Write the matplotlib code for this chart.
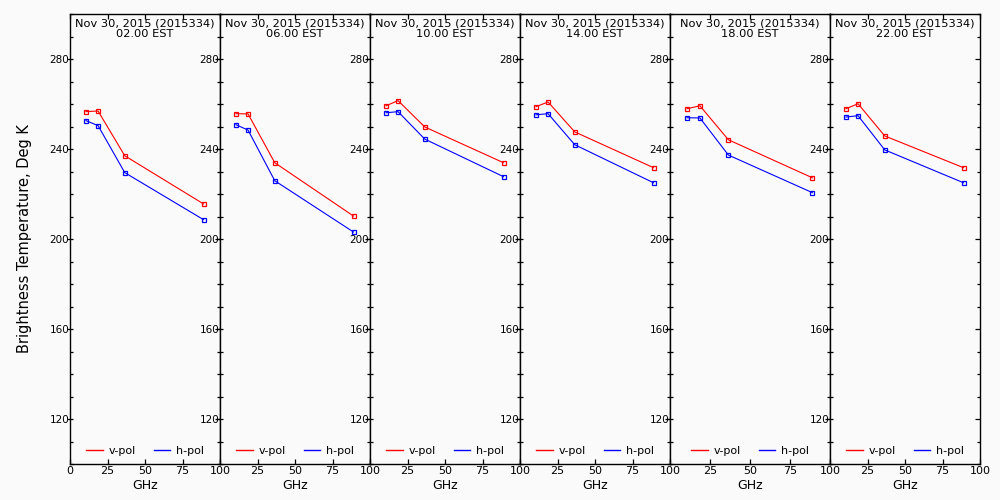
import numpy as np
import matplotlib
matplotlib.use("Agg")
from matplotlib import pyplot as plt
from matplotlib.lines import Line2D
from matplotlib.ticker import MultipleLocator

# AMSR2-like channel frequencies (GHz)
freqs = [10.65, 18.7, 36.5, 89.0]

hours = ["02.00 EST", "06.00 EST", "10.00 EST", "14.00 EST", "18.00 EST", "22.00 EST"]
date_label = "Nov 30, 2015 (2015334)"
x_ticks = [0, 25, 50, 75, 100]

# brightness temperatures (Deg K)
vpol = [
    [256.6, 256.9, 237.0, 215.6],
    [255.7, 255.6, 233.9, 210.2],
    [259.2, 261.5, 249.8, 233.9],
    [258.8, 260.9, 247.6, 231.7],
    [257.9, 259.2, 244.1, 227.2],
    [257.9, 260.1, 245.8, 231.7],
]
hpol = [
    [252.6, 250.4, 229.5, 208.6],
    [250.8, 248.4, 225.9, 203.1],
    [256.1, 256.6, 244.4, 227.7],
    [255.2, 255.7, 241.9, 225.0],
    [253.9, 253.8, 237.3, 220.6],
    [254.2, 254.8, 239.6, 225.0],
]

# panel placement in pixels (left edge, width)
panel_left = [70, 220, 370, 520, 670, 830]
panel_width = [150, 150, 150, 150, 160, 150]

BG = "#fafafa"
W, H = 1000, 500

fig = plt.figure(figsize=(10, 5), dpi=100, facecolor=BG)

for i in range(6):
    ax = fig.add_axes([panel_left[i] / W, 36 / H, panel_width[i] / W, 450 / H])
    ax.set_facecolor(BG)
    ax.plot(freqs, vpol[i], color="red", lw=0.8, marker="s", ms=3.2,
            mfc="none", mec="red", mew=0.9)
    ax.plot(freqs, hpol[i], color="blue", lw=0.8, marker="s", ms=3.2,
            mfc="none", mec="blue", mew=0.9)

    ax.set_xlim(0, 100)
    ax.set_ylim(100, 300)
    ax.set_xticks(x_ticks)
    # only the first panel labels its 0, the others share it with the 100 of the previous one
    if i == 0:
        ax.set_xticklabels([str(v) for v in x_ticks])
    else:
        ax.set_xticklabels([""] + [str(v) for v in x_ticks[1:]])
    ax.set_yticks([120, 160, 200, 240, 280])
    ax.yaxis.set_minor_locator(MultipleLocator(10))

    ax.tick_params(axis="x", which="major", direction="in", top=True, bottom=True,
                   length=3.5, width=0.9, labelsize=8, pad=1.5)
    ax.tick_params(axis="y", which="both", direction="in", left=True, right=True,
                   width=0.9, labelsize=7.5, pad=0.5)
    ax.tick_params(axis="y", which="major", length=3.5)
    ax.tick_params(axis="y", which="minor", length=2.5)
    # left major ticks cross the spine
    for t in ax.yaxis.get_major_ticks():
        t.tick1line.set_marker("_")
        t.tick1line.set_markersize(5)
    for sp in ax.spines.values():
        sp.set_linewidth(1.0)

    ax.text(0.5, 0.99, date_label + "\n" + hours[i], transform=ax.transAxes,
            ha="center", va="top", fontsize=8.2, linespacing=1.1)
    ax.set_xlabel("GHz", fontsize=9, labelpad=2)

    handles = [Line2D([], [], color="red", lw=1.0), Line2D([], [], color="blue", lw=1.0)]
    ax.legend(handles, ["v-pol", "h-pol"], loc="lower center", ncol=2,
              frameon=False, fontsize=8, handlelength=1.5, handletextpad=0.5,
              columnspacing=1.6, borderaxespad=0.3)

fig.text(0.025, 1 - 239 / H, "Brightness Temperature, Deg K", rotation=90,
         ha="center", va="center", fontsize=10.5)

fig.savefig("out.png", dpi=100, facecolor=BG)
